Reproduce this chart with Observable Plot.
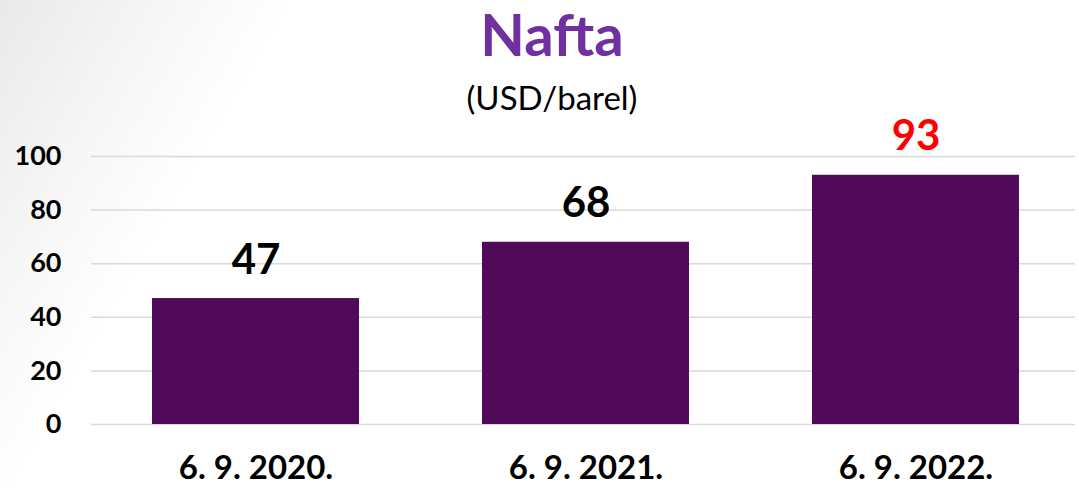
<!DOCTYPE html>
<html>
<head>
<meta charset="utf-8">
<script src="https://cdn.jsdelivr.net/npm/d3@7"></script>
<script src="https://cdn.jsdelivr.net/npm/@observablehq/plot@0.6"></script>
<style>
  html, body { margin: 0; padding: 0; }
  body {
    width: 1079px; height: 488px; overflow: hidden;
    background: linear-gradient(120deg, #e9e9e9 0%, #f6f6f6 12%, #ffffff 22%, #ffffff 100%);
    font-family: Lato, "Open Sans", sans-serif;
  }
  #header { position: relative; height: 100px; width: 1079px; }
  #title, #subtitle { position: absolute; left: 25px; right: 0; text-align: center; }
  #title { top: -1px; font-size: 58px; line-height: 70px; font-weight: bold; color: #7030A0; }
  #subtitle { top: 77px; font-size: 33px; line-height: 40px; color: #000; }
  #chart svg { display: block; background: transparent; overflow: visible; }
</style>
</head>
<body>
<div id="header">
  <div id="title">Nafta</div>
  <div id="subtitle">(USD/barel)</div>
</div>
<div id="chart"></div>
<script>
const categories = ["6. 9. 2020.", "6. 9. 2021.", "6. 9. 2022."];
const values = [47, 68, 93];
const yTicks = [0, 20, 40, 60, 80, 100];

const data = categories.map((c, i) => ({category: c, value: values[i]}));
const maxValue = d3.max(values);

const chart = Plot.plot({
  width: 1079,
  height: 388,
  marginTop: 56,
  marginBottom: 64,
  marginLeft: 91,
  marginRight: 4,
  style: {fontFamily: "Lato, 'Open Sans', sans-serif", background: "transparent", color: "#000", overflow: "visible"},
  x: {domain: categories, paddingInner: 0.373, paddingOuter: 0.177, align: 0.52, label: null},
  y: {domain: [0, 100], label: null},
  marks: [
    Plot.ruleY(yTicks, {stroke: "#d9d9d9", strokeWidth: 1.5}),
    Plot.barY(data, {x: "category", y: "value", fill: "#510A5A"}),
    Plot.text(data, {
      x: "category", y: "value", text: d => String(d.value),
      dy: -25, lineAnchor: "bottom", fontSize: 42, fontWeight: "bold",
      fill: d => d.value === maxValue ? "#FF0000" : "#000000"
    }),
    Plot.axisY({ticks: yTicks, tickSize: 0, tickPadding: 30, fontSize: 27, fontWeight: "bold", label: null}),
    Plot.axisX({tickSize: 0, tickPadding: 31, fontSize: 33, fontWeight: "bold", label: null})
  ]
});
document.getElementById("chart").appendChild(chart);
</script>
</body>
</html>
